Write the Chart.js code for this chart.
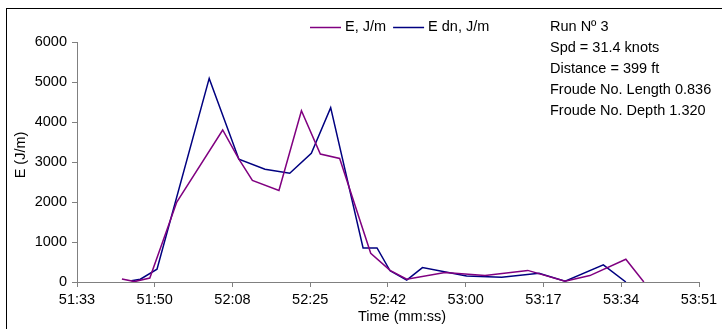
<!DOCTYPE html>
<html>
<head>
<meta charset="utf-8">
<script src="https://cdn.jsdelivr.net/npm/chart.js@4"></script>
<style>
  html, body { margin: 0; padding: 0; background: #fff; }
  #wrap { width: 722px; height: 329px; position: relative; }
</style>
</head>
<body>
<div id="wrap"><canvas id="graph"></canvas></div>
<script>
// time in seconds (51:33 = 3093 s), energy in J/m
const eTime = [3103.1, 3105.9, 3109.3, 3115.3, 3125.5, 3129.1, 3132.1, 3138.0, 3143.0, 3147.2, 3151.5,
               3158.4, 3162.7, 3166.4, 3174.9, 3183.8, 3193.3, 3201.6, 3207.1, 3215.1, 3219.1];
const eVal  = [75, 10, 100, 2000, 3800, 3070, 2540, 2290, 4280, 3200, 3090,
               720, 290, 70, 240, 160, 290, 20, 160, 570, 0];

const dnTime = [3105.2, 3107.2, 3110.9, 3122.5, 3129.1, 3134.9, 3140.4, 3145.2, 3149.5, 3156.7,
                3159.8, 3162.7, 3166.4, 3169.9, 3179.7, 3187.5, 3195.8, 3201.6, 3210.1, 3215.1];
const dnVal  = [30, 70, 320, 5090, 3070, 2820, 2720, 3220, 4360, 850,
                850, 280, 50, 360, 150, 120, 220, 20, 430, 0];

const xTicks = [3093.12, 3110.4, 3127.68, 3144.96, 3162.24, 3179.52, 3196.8, 3214.08, 3231.36];
const xTickLabels = ['51:33', '51:50', '52:08', '52:25', '52:42', '53:00', '53:17', '53:34', '53:51'];

const notes = ['Run Nº 3', 'Spd = 31.4 knots', 'Distance = 399 ft', 'Froude No. Length 0.836', 'Froude No. Depth 1.320'];

const FONT = 'Liberation Sans, Arial, sans-serif';
const AXIS = '#808080';

function toXY(xs, ys) {
    return xs.map((x, i) => ({x: x, y: ys[i]}));
}

const extras = {
    id: 'extras',
    beforeDraw(chart) {
        const c = chart.ctx;
        c.save();
        c.strokeStyle = '#000';
        c.lineWidth = 1;
        c.strokeRect(6.5, 8.5, 800, 400);
        c.restore();
    },
    afterDraw(chart) {
        const c = chart.ctx;
        c.save();
        c.fillStyle = '#000';
        c.font = '14.5px ' + FONT;
        c.textBaseline = 'middle';

        // legend
        let lx = 310;
        chart.data.datasets.forEach(ds => {
            c.strokeStyle = ds.borderColor;
            c.lineWidth = 1.5;
            c.beginPath();
            c.moveTo(lx, 27.5);
            c.lineTo(lx + 31, 27.5);
            c.stroke();
            c.textAlign = 'left';
            c.fillText(ds.label, lx + 35, 27);
            lx += 35 + c.measureText(ds.label).width + 7;
        });

        // run info
        notes.forEach((t, i) => c.fillText(t, 550, 27 + i * 21));

        // axis titles
        c.textAlign = 'center';
        c.fillText('Time (mm:ss)', 402, 317);
        c.translate(21, 155);
        c.rotate(-Math.PI / 2);
        c.fillText('E (J/m)', 0, 0);
        c.restore();
    }
};

new Chart(document.getElementById('graph'), {
    type: 'line',
    data: {
        datasets: [{
            label: 'E, J/m',
            data: toXY(eTime, eVal),
            borderColor: '#800080',
            backgroundColor: '#800080',
            borderWidth: 1.5,
            pointRadius: 0,
            fill: false,
            tension: 0
        },
        {
            label: 'E dn, J/m',
            data: toXY(dnTime, dnVal),
            borderColor: '#000080',
            backgroundColor: '#000080',
            borderWidth: 1.5,
            pointRadius: 0,
            fill: false,
            tension: 0
        }]
    },
    options: {
        responsive: true,
        maintainAspectRatio: false,
        animation: false,
        layout: { padding: { left: 0, top: 42, right: 23, bottom: 0 } },
        plugins: {
            legend: { display: false },
            tooltip: { enabled: false }
        },
        scales: {
            x: {
                type: 'linear',
                min: xTicks[0],
                max: xTicks[xTicks.length - 1],
                afterBuildTicks: s => { s.ticks = xTicks.map(v => ({value: v})); },
                afterFit: s => { s.height = 47; s.paddingLeft = 0; s.paddingRight = 0; },
                grid: { drawOnChartArea: false, drawTicks: true, tickLength: 5, color: AXIS },
                border: { color: AXIS, width: 1 },
                ticks: {
                    autoSkip: false,
                    maxRotation: 0,
                    padding: 4,
                    color: '#000',
                    font: { family: FONT, size: 14.5 },
                    callback: (v, i) => xTickLabels[i]
                }
            },
            y: {
                min: 0,
                max: 6000,
                afterFit: s => { s.width = 77; s.paddingTop = 0; s.paddingBottom = 0; },
                grid: { drawOnChartArea: false, drawTicks: true, tickLength: 5, color: AXIS },
                border: { color: AXIS, width: 1 },
                ticks: {
                    stepSize: 1000,
                    padding: 5,
                    color: '#000',
                    font: { family: FONT, size: 14.5 },
                    callback: v => String(v)
                }
            }
        }
    },
    plugins: [extras]
});
</script>
</body>
</html>
